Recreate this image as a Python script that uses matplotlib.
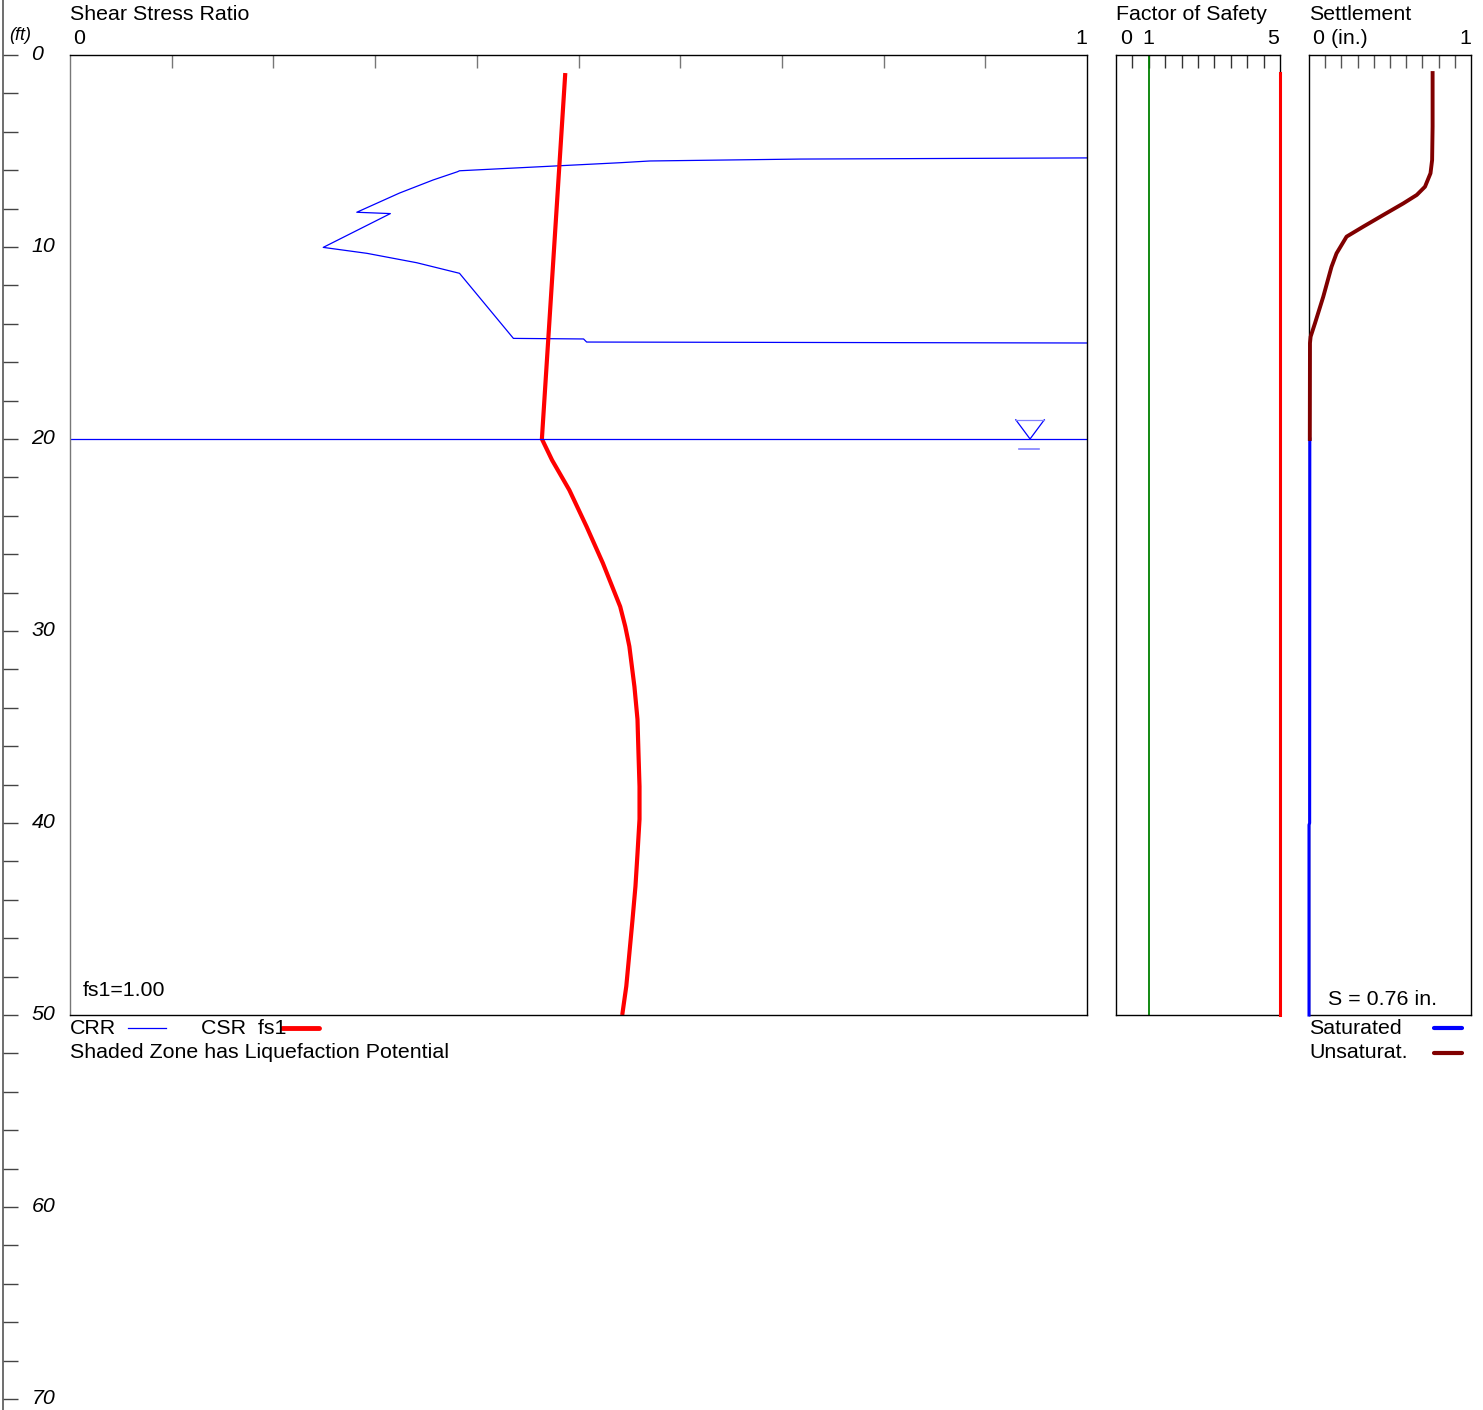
import numpy as np
import matplotlib
matplotlib.use("Agg")
import matplotlib.pyplot as plt
from matplotlib.lines import Line2D

plt.rcParams['font.family'] = ['Liberation Sans', 'DejaVu Sans']

# ---- data (depth in ft) ----
csr_depth = [0.94, 20, 21.1, 22.66, 24.57, 26.47, 28.73, 29.77, 30.8, 32.9, 34.6,
             36.4, 38.1, 39.8, 41.6, 43.3, 45.1, 46.8, 48.5, 50]
csr_value = [0.487, 0.464, 0.474, 0.491, 0.508, 0.524, 0.541, 0.546, 0.550, 0.555,
             0.558, 0.559, 0.560, 0.560, 0.558, 0.556, 0.553, 0.550, 0.547, 0.543]

crr_depth = [5.36, 5.42, 5.52, 5.61, 6.03, 6.08, 6.51, 7.19, 8.19, 8.26, 10.02,
             10.33, 10.82, 11.37, 14.76, 14.79, 14.95, 15.0]
crr_value = [1.0, 0.718, 0.570, 0.541, 0.383, 0.381, 0.357, 0.324, 0.282, 0.315,
             0.249, 0.292, 0.341, 0.383, 0.436, 0.505, 0.508, 1.0]

fs_depth = [0.94, 50]
fs_value = [5.0, 5.0]
fs_limit = 1.0

unsat_depth = [0.94, 3.73, 5.47, 6.16, 6.86, 7.29, 7.73, 8.33, 8.94, 9.46, 10.33,
               11.03, 12.59, 13.97, 14.67, 15.0, 20.0]
unsat_value = [0.763, 0.763, 0.760, 0.750, 0.716, 0.665, 0.582, 0.459, 0.335, 0.232,
               0.170, 0.139, 0.088, 0.037, 0.010, 0.006, 0.005]
sat_depth = [20.0, 40.0, 40.1, 50.0]
sat_value = [0.005, 0.004, 0.0, 0.0]

water_depth = 20.0
settlement_total = 0.76
fs1 = 1.00

# ---- layout in pixels ----
W, H = 1483, 1410
Y0, Y50 = 55, 1015
PX_FT = (Y50 - Y0) / 50.0


def box(x0, y0, x1, y1):
    return [x0 / W, 1 - y1 / H, (x1 - x0) / W, (y1 - y0) / H]


def fx(px):
    return px / W


def fy(py):
    return 1 - py / H


fig = plt.figure(figsize=(W / 100, H / 100), dpi=100)
FS = 15.4

# depth scale at far left
axd = fig.add_axes(box(3, 0, 60, H))
axd.set_ylim((H - Y0) / PX_FT, -Y0 / PX_FT)
axd.set_xlim(0, 1)
for s in ['top', 'right', 'bottom']:
    axd.spines[s].set_visible(False)
axd.spines['left'].set_color('#555555')
axd.spines['left'].set_linewidth(1.2)
axd.set_yticks(np.arange(0, 71, 2))
axd.tick_params(axis='y', direction='in', length=11, width=1, color='#444444',
                labelleft=False)
axd.set_xticks([])
axd.patch.set_alpha(0)
for d in range(0, 71, 10):
    axd.text(0.5, d, str(d), style='italic', fontsize=FS, ha='left', va='center')
fig.text(fx(9), fy(35), '(ft)', style='italic', fontsize=13, ha='left', va='center')

# main shear stress ratio panel
ax = fig.add_axes(box(70, Y0, 1087, Y50))
ax.set_xlim(0, 1)
ax.set_ylim(50, 0)
ax.plot(crr_value, crr_depth, color='#0000ff', lw=0.9)
ax.plot(csr_value, csr_depth, color='#ff0000', lw=3.0, solid_capstyle='butt',
        solid_joinstyle='round')
ax.axhline(water_depth, color='#0000ff', lw=0.9)
wx = 0.944
ax.plot([wx - 0.014, wx, wx + 0.014], [water_depth - 1.0, water_depth, water_depth - 1.0],
        color='#0000ff', lw=0.9)
ax.plot([wx - 0.014, wx + 0.014], [water_depth - 1.0, water_depth - 1.0],
        color='#8080ff', lw=0.9)
ax.plot([wx - 0.011, wx + 0.009], [water_depth + 0.5, water_depth + 0.5],
        color='#8080ff', lw=1.2)
ax.set_xticks(np.arange(0.1, 0.95, 0.1))
ax.set_yticks([])
ax.tick_params(axis='x', top=True, bottom=False, direction='in', length=9.5,
               width=1, color='#777777', labeltop=False, labelbottom=False)
ax.spines['left'].set_color('#777777')
for s in ax.spines.values():
    s.set_linewidth(1.0)
ax.text(0.013, 48.7, 'fs1=%.2f' % fs1, fontsize=FS, ha='left', va='center')

fig.text(fx(70), fy(15), 'Shear Stress Ratio', fontsize=FS, ha='left', va='center')
fig.text(fx(79), fy(39), '0', fontsize=FS, ha='center', va='center')
fig.text(fx(1081), fy(39), '1', fontsize=FS, ha='center', va='center')

# legend under main panel
fig.text(fx(70), fy(1028), 'CRR', fontsize=FS, ha='left', va='center')
fig.add_artist(Line2D([fx(128), fx(166)], [fy(1028), fy(1028)], color='#0000ff', lw=0.9))
fig.text(fx(201), fy(1028), 'CSR  fs1', fontsize=FS, ha='left', va='center')
fig.add_artist(Line2D([fx(282), fx(319)], [fy(1028), fy(1028)], color='#ff0000', lw=3.5,
                      solid_capstyle='round'))
fig.text(fx(70), fy(1053), 'Shaded Zone has Liquefaction Potential', fontsize=FS,
         ha='left', va='center')

# factor of safety panel
axf = fig.add_axes(box(1116, Y0, 1280, Y50))
axf.set_xlim(0, 5)
axf.set_ylim(50, 0)
axf.axvline(fs_limit, color='#008000', lw=1.3)
axf.plot(fs_value, fs_depth, color='#ff0000', lw=2.2, clip_on=False, zorder=3)
axf.set_xticks(np.arange(0.5, 4.9, 0.5))
axf.set_yticks([])
axf.tick_params(axis='x', top=True, bottom=False, direction='in', length=9.5,
                width=1, color='#333333', labeltop=False, labelbottom=False)
for s in axf.spines.values():
    s.set_linewidth(1.0)
fig.text(fx(1116), fy(15), 'Factor of Safety', fontsize=FS, ha='left', va='center')
fig.text(fx(1126), fy(39), '0', fontsize=FS, ha='center', va='center')
fig.text(fx(1148), fy(39), '1', fontsize=FS, ha='center', va='center')
fig.text(fx(1273), fy(39), '5', fontsize=FS, ha='center', va='center')

# settlement panel
axs = fig.add_axes(box(1309, Y0, 1471, Y50))
axs.set_xlim(0, 1)
axs.set_ylim(50, 0)
axs.plot(sat_value, sat_depth, color='#0000ff', lw=2.2, clip_on=False, zorder=3)
axs.plot(unsat_value, unsat_depth, color='#800000', lw=2.8, clip_on=False, zorder=3)
axs.set_xticks(np.arange(0.1, 0.95, 0.1))
axs.set_yticks([])
axs.tick_params(axis='x', top=True, bottom=False, direction='in', length=9.5,
                width=1, color='#555555', labeltop=False, labelbottom=False)
for s in axs.spines.values():
    s.set_linewidth(1.0)
axs.text(0.12, 49.2, 'S = %.2f in.' % settlement_total, fontsize=FS, ha='left', va='center')
fig.text(fx(1309), fy(15), 'Settlement', fontsize=FS, ha='left', va='center')
fig.text(fx(1313), fy(39), '0 (in.)', fontsize=FS, ha='left', va='center')
fig.text(fx(1465), fy(39), '1', fontsize=FS, ha='center', va='center')

fig.text(fx(1309), fy(1028), 'Saturated', fontsize=FS, ha='left', va='center')
fig.add_artist(Line2D([fx(1434), fx(1462)], [fy(1028), fy(1028)], color='#0000ff', lw=3,
                      solid_capstyle='round'))
fig.text(fx(1309), fy(1053), 'Unsaturat.', fontsize=FS, ha='left', va='center')
fig.add_artist(Line2D([fx(1434), fx(1462)], [fy(1053), fy(1053)], color='#800000', lw=3,
                      solid_capstyle='round'))

fig.savefig('out.png', dpi=100)
